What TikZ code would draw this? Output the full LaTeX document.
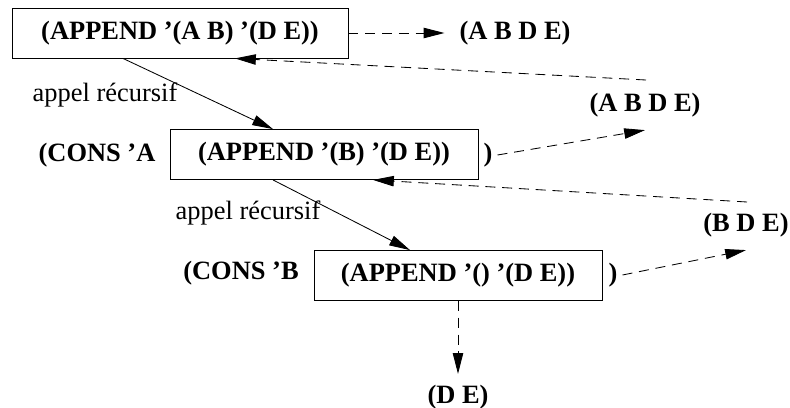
\documentclass[tikz,border=0pt]{standalone}
\usepackage{fontspec}
\setmainfont{Liberation Serif}
\usetikzlibrary{arrows.meta}

\begin{document}
\begin{tikzpicture}[x=0.025cm, y=-0.025cm, line width=0.6pt,
	appel/.style={shape=rectangle,draw=black,minimum height=1.25cm,font=\bfseries\fontsize{18.8}{22}\selectfont},
	res/.style={font=\bfseries\fontsize{18.8}{22}\selectfont},
	lbl/.style={font=\fontsize{18.8}{22}\selectfont},
	tip/.style={-{Triangle[length=0.52cm,width=0.26cm]}},
	ret/.style={tip,dash pattern=on 0.25cm off 0.17cm}]

	\useasboundingbox (0,0) rectangle (790,408);

	\node[appel,minimum width=8.4cm] (b1) at (180,33)    {(APPEND '(A B) '(D E))};
	\node[appel,minimum width=7.7cm] (b2) at (324,154.5) {(APPEND '(B) '(D E))};
	\node[appel,minimum width=7.2cm] (b3) at (458,275.5) {(APPEND '() '(D E))};

	\node[res] (consA) at (97,155)  {(CONS 'A};
	\node[res] (consB) at (241,273) {(CONS 'B};
	\node[res] (p2)    at (488,155) {)};
	\node[res] (p3)    at (613,275) {)};

	\node[res] (r1) at (515,33)  {(A B D E)};
	\node[res] (r2) at (645,105) {(A B D E)};
	\node[res] (r3) at (746,225) {(B D E)};
	\node[res] (r4) at (458,397) {(D E)};

	\node[lbl] (l1) at (105,95)  {appel récursif};
	\node[lbl] (l2) at (248,213) {appel récursif};

	\coordinate (back1) at (646,80);
	\coordinate (back2) at (747,202);

	% appels
	\path[tip] ([xshift=-1.425cm]b1.south) edge ([xshift=-1.275cm]b2.north);
	\path[tip] ([xshift=-1.275cm]b2.south) edge ([xshift=-1.2cm]b3.north);

	% resultats
	\path[ret] (b1.east) edge[shorten >=0.25cm] (r1.west);
	\path[ret] (p2.east) edge ([yshift=-0.2cm]r2.south);
	\path[ret] (p3.east) edge ([yshift=-0.2cm]r3.south);
	\path[ret] (b3.south) edge[shorten >=0.15cm] (r4.north);

	% retours
	\path[ret] (back1) edge ([xshift=1.375cm]b1.south);
	\path[ret] (back2) edge ([xshift=1.225cm]b2.south);

\end{tikzpicture}
\end{document}
